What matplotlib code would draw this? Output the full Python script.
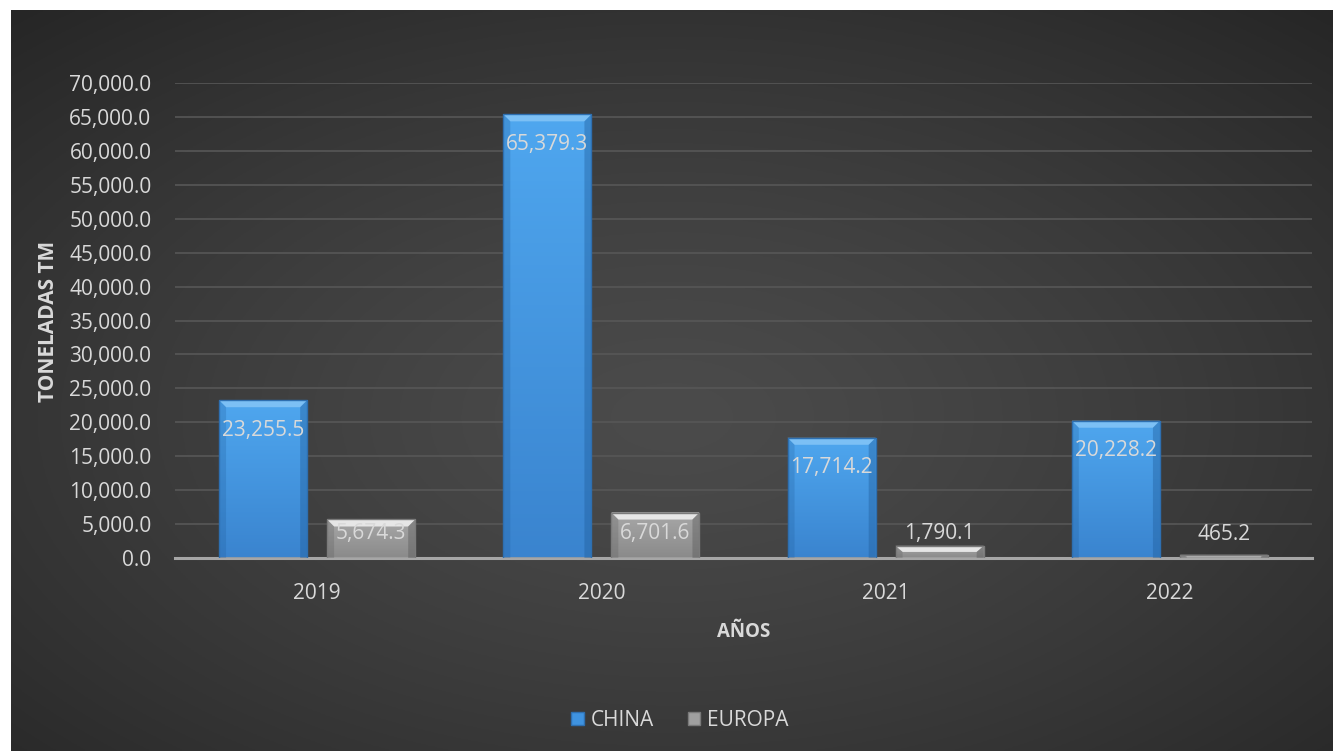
import numpy as np
import matplotlib as mat
mat.use('agg')
import matplotlib.pyplot as plt
from matplotlib.patches import Polygon, Patch
from matplotlib.ticker import FuncFormatter

# datos del grafico
years = ['2019', '2020', '2021', '2022']
china = [23255.5, 65379.3, 17714.2, 20228.2]
europa = [5674.3, 6701.6, 1790.1, 465.2]
series_names = ['CHINA', 'EUROPA']

TXT = '#d9d9d9'
FONT = ['Open Sans', 'DejaVu Sans']
plt.rcParams['font.family'] = FONT

W, H = 1333, 751
fig = plt.figure(figsize=(W / 100, H / 100), dpi=100, facecolor='white')

# fondo oscuro con degradado radial
bg = fig.add_axes([11 / W, 0, 1 - 11 / W, 1 - 10 / H])
yy, xx = np.mgrid[0:1:300j, 0:1:500j]
r = np.sqrt(((xx - 0.5) / 0.75) ** 2 + ((yy - 0.55) / 0.75) ** 2)
r = np.clip(r / r.max(), 0, 1)
c0, c1 = 0x4b / 255, 0x26 / 255
img = c0 + (c1 - c0) * r ** 1.3
bg.imshow(np.dstack([img, img, img]), aspect='auto', extent=[0, 1, 0, 1])
bg.set_axis_off()

ax = fig.add_axes([175 / W, 1 - 558 / H, (1312 - 175) / W, (558 - 83) / H])
ax.set_facecolor('none')
ax.set_xlim(-0.5, 3.5)
ax.set_ylim(0, 70000)
ax.set_yticks(np.arange(0, 70001, 5000))
ax.yaxis.set_major_formatter(FuncFormatter(lambda v, p: f'{v:,.1f}'))
ax.grid(axis='y', color='#575757', lw=1.2)
ax.set_axisbelow(True)
for s in ['top', 'right', 'left']:
    ax.spines[s].set_visible(False)
ax.spines['bottom'].set_color('#a6a6a6')
ax.spines['bottom'].set_linewidth(2.2)
ax.tick_params(axis='both', length=0, colors=TXT, labelsize=15)
ax.tick_params(axis='y', pad=17)
ax.tick_params(axis='x', pad=18)

x = np.arange(len(years))
bw = 0.31
off = 0.19

# px -> unidades de datos
dx = 4 / (1312 - 175)
dy = 70000 / (558 - 83)


def bevel_bar(xc, val, top_c, bot_c, light, dark, edge):
    x0, x1 = xc - bw / 2, xc + bw / 2
    grad = np.linspace(0, 1, 100).reshape(-1, 1)
    tc = np.array(mat.colors.to_rgb(top_c))
    bc = np.array(mat.colors.to_rgb(bot_c))
    cols = tc + (bc - tc) * grad[:, :, None]
    im = ax.imshow(cols, extent=[x0, x1, 0, val], aspect='auto', zorder=2,
                   origin='upper')
    rect = plt.Rectangle((x0, 0), bw, val, transform=ax.transData)
    im.set_clip_path(rect)
    b = 7
    bx, by = b * dx, min(b * dy, val / 2)
    ax.add_patch(Polygon([(x0, val), (x1, val), (x1 - bx, val - by), (x0 + bx, val - by)],
                         closed=True, fc=light, ec='none', zorder=3))
    ax.add_patch(Polygon([(x0, 0), (x0, val), (x0 + bx, val - by), (x0 + bx, 0)],
                         closed=True, fc=dark, ec='none', alpha=0.25, zorder=3))
    ax.add_patch(Polygon([(x1, 0), (x1, val), (x1 - bx, val - by), (x1 - bx, 0)],
                         closed=True, fc=dark, ec='none', alpha=0.4, zorder=3))
    ax.add_patch(plt.Rectangle((x0, 0), bw, val, fc='none', ec=edge, lw=1, zorder=4))


for i in range(len(years)):
    bevel_bar(x[i] - off, china[i], '#4fa7ef', '#3a84cf', '#7cc0f5', '#1f5c9a', '#2e6fb0')
    bevel_bar(x[i] + off, europa[i], '#a8a8a8', '#8a8a8a', '#e6e6e6', '#555555', '#7a7a7a')
    ax.text(x[i] - off, china[i] - 30 * dy, f'{china[i]:,.1f}', ha='center', va='center',
            color=TXT, fontsize=15, zorder=5)
    ax.text(x[i] + off, 24 * dy, f'{europa[i]:,.1f}', ha='center', va='center',
            color=TXT, fontsize=15, zorder=5)

ax.set_xticks(x)
ax.set_xticklabels(years)
ax.set_xlabel('AÑOS', color=TXT, fontsize=13.5, fontweight='bold', labelpad=13)
ax.set_ylabel('TONELADAS TM', color=TXT, fontsize=15, fontweight='bold')
ax.yaxis.set_label_coords((59 - 175) / (1312 - 175), (558 - 321) / (558 - 83))

handles = [Patch(fc='#3f93e0', ec='#2e6fb0'), Patch(fc='#a0a0a0', ec='#7a7a7a')]
leg = fig.legend(handles, series_names, loc='center', bbox_to_anchor=(680 / W, 1 - 720 / H),
                 ncol=2, frameon=False, fontsize=15, handlelength=0.6, handleheight=0.6,
                 handletextpad=0.35, columnspacing=1.6)
for t in leg.get_texts():
    t.set_color(TXT)

fig.savefig('out.png', dpi=100, facecolor='white')
